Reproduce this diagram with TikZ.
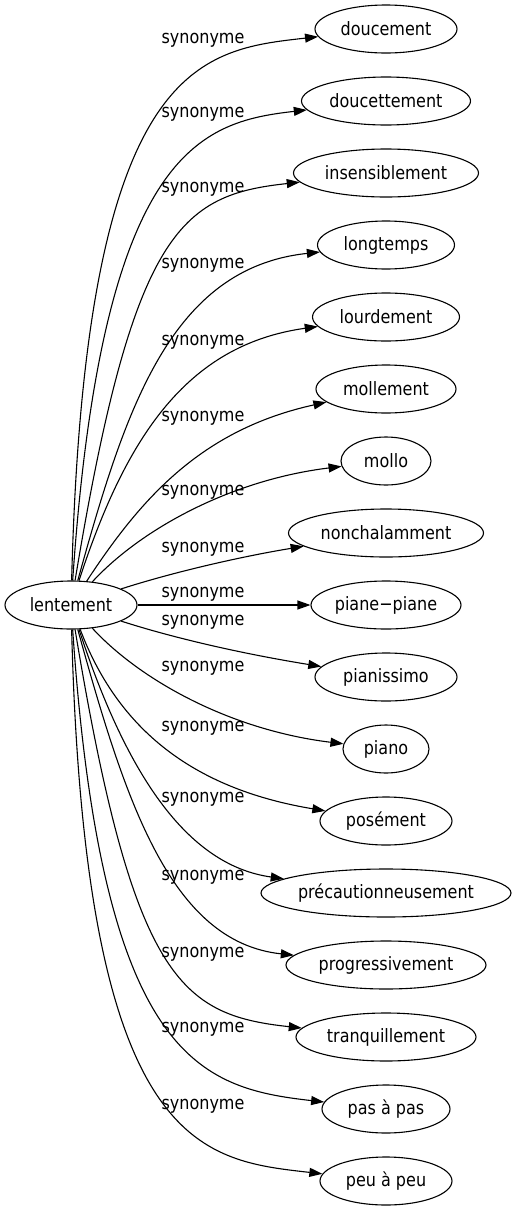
\documentclass[tikz,border=0pt]{standalone}
\usepackage{fontspec}
\setmainfont{DejaVu Sans}[FakeStretch=0.87]
\usetikzlibrary{shapes.geometric,arrows.meta}

\begin{document}
\begin{tikzpicture}[x=1pt, y=-1pt,
        word/.style={ellipse, draw, line width=1.1pt, minimum height=48pt, inner sep=0pt, font=\fontsize{18.4}{22}\selectfont},
        syn/.style={inner sep=0pt, font=\fontsize{18.4}{22}\selectfont},
        arrow/.style={-{Triangle[length=13pt, width=9pt]}, line width=1.1pt}
    ]
        \useasboundingbox (0,0) rectangle (516,1211);

        \node[word, minimum width=132pt] (lent) at (71,605) {lentement};

        \node[word, minimum width=142pt] (doucement) at (386,29) {doucement};
        \node[word, minimum width=169pt] (doucettement) at (386,101) {doucettement};
        \node[word, minimum width=185pt] (insensiblement) at (386,173) {insensiblement};
        \node[word, minimum width=137pt] (longtemps) at (386,245) {longtemps};
        \node[word, minimum width=147pt] (lourdement) at (386,317) {lourdement};
        \node[word, minimum width=140pt] (mollement) at (386,389) {mollement};
        \node[word, minimum width=90pt] (mollo) at (386,461) {mollo};
        \node[word, minimum width=195pt] (nonchalamment) at (386,533) {nonchalamment};
        \node[word, minimum width=150pt] (pianepiane) at (386,605) {piane−piane};
        \node[word, minimum width=142pt] (pianissimo) at (386,677) {pianissimo};
        \node[word, minimum width=86pt] (piano) at (386,749) {piano};
        \node[word, minimum width=132pt] (posement) at (386,821) {posément};
        \node[word, minimum width=250pt] (precaution) at (386,893) {précautionneusement};
        \node[word, minimum width=200pt] (progressivement) at (386,965) {progressivement};
        \node[word, minimum width=180pt] (tranquillement) at (386,1037) {tranquillement};
        \node[word, minimum width=128pt] (pasapas) at (386,1109) {pas à pas};
        \node[word, minimum width=132pt] (peuapeu) at (386,1181) {peu à peu};

        \node[syn] (s1) at (203,40) {synonyme};
        \node[syn] (s2) at (203,114) {synonyme};
        \node[syn] (s3) at (203,189) {synonyme};
        \node[syn] (s4) at (203,265) {synonyme};
        \node[syn] (s5) at (203,342) {synonyme};
        \node[syn] (s6) at (203,418) {synonyme};
        \node[syn] (s7) at (203,492) {synonyme};
        \node[syn] (s8) at (203,549) {synonyme};
        \node[syn] (s9) at (203,594) {synonyme};
        \node[syn] (s10) at (203,622) {synonyme};
        \node[syn] (s11) at (203,668) {synonyme};
        \node[syn] (s12) at (203,728) {synonyme};
        \node[syn] (s13) at (203,799) {synonyme};
        \node[syn] (s14) at (203,877) {synonyme};
        \node[syn] (s15) at (203,954) {synonyme};
        \node[syn] (s16) at (203,1029) {synonyme};
        \node[syn] (s17) at (203,1106) {synonyme};

        \draw[arrow] (lent) .. controls (85,60) and (200,50) .. (doucement);
        \draw[arrow] (lent) .. controls (102,150) and (200,122) .. (doucettement);
        \draw[arrow] (lent) .. controls (133,231) and (180,195) .. (insensiblement);
        \draw[arrow] (lent) .. controls (125,410) and (170,268) .. (longtemps);
        \draw[arrow] (lent) .. controls (125,440) and (185,345) .. (lourdement);
        \draw[arrow] (lent) .. controls (140,500) and (200,430) .. (mollement);
        \draw[arrow] (lent) .. controls (140,530) and (230,480) .. (mollo);
        \draw[arrow] (lent) .. controls (180,570) and (250,555) .. (nonchalamment);
        \draw[arrow] (lent) -- (pianepiane);
        \draw[arrow] (lent) .. controls (180,640) and (250,655) .. (pianissimo);
        \draw[arrow] (lent) .. controls (140,680) and (230,730) .. (piano);
        \draw[arrow] (lent) .. controls (120,735) and (200,790) .. (posement);
        \draw[arrow] (lent) .. controls (125,770) and (185,865) .. (precaution);
        \draw[arrow] (lent) .. controls (125,800) and (170,942) .. (progressivement);
        \draw[arrow] (lent) .. controls (133,979) and (180,1015) .. (tranquillement);
        \draw[arrow] (lent) .. controls (102,1060) and (200,1088) .. (pasapas);
        \draw[arrow] (lent) .. controls (85,1150) and (200,1160) .. (peuapeu);
    \end{tikzpicture}
\end{document}
